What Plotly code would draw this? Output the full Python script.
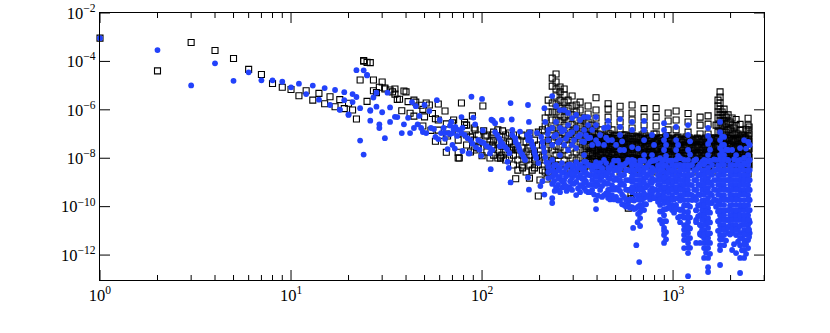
import math
import plotly.graph_objects as go

# ---------- low multipoles: black squares (ell, log10 value) ----------
black_ell = [1,2,3,4,5,6,7,8,9,10,11,12,13,14,15,16,17,18,19,20,21,22,23,24,25,26,27,28,29,
 24,25,27,30,31,31,33,34,35,35,36,37,39,40,41,44,45,48,53,51,59,49,38,42,44,50,55,64,57,59,49,65,70,54,59,63,65,75,65,57,66,75,75,
 78,101,89,81,71,92,102,81,104,128,162,75,76,100,125,177,150,197,219,201,183,163,87,114,139,174,143,113,95,125,152,190,
 583,602,622,624,644,603,621]
black_exp = [-3.04,-4.39,-3.22,-3.55,-3.88,-4.33,-4.54,-4.91,-5.07,-5.16,-5.42,-5.21,-5.60,-5.32,-5.75,-5.46,-5.87,-5.58,-5.95,-5.73,-6.01,-6.38,-4.77,-3.99,-5.65,-4.05,-5.21,-5.29,-5.07,
 -3.96,-4.04,-4.77,-4.85,-5.10,-5.14,-5.18,-5.26,-5.35,-5.14,-5.57,-5.56,-5.22,-5.26,-5.66,-5.60,-5.68,-5.81,-5.80,-5.72,-5.76,-5.98,-6.04,-6.14,-6.26,-6.29,-6.15,-6.05,-6.37,-6.42,-6.67,-6.58,-6.54,-6.85,-6.84,-7.30,-7.75,-7.75,-7.00,-7.30,-7.08,-7.25,-7.99,
 -5.72,-5.84,-6.25,-6.52,-6.42,-6.83,-6.87,-6.62,-7.08,-6.87,-7.08,-6.97,-7.99,-7.90,-8.00,-8.82,-8.85,-9.56,-8.86,-8.90,-8.49,-8.40,-7.12,-7.04,-7.33,-7.58,-7.66,-7.45,-7.58,-7.95,-7.62,-7.99,
 -10.06,-9.52,-9.40,-9.64,-9.40,-9.68,-9.35]

# ---------- dense black bands: one list of log10 values per multipole ----------
black_band_ell = [106,110,115,121,127,133,139,146,154,162,170,178,188,197,207,214,83,87,91,95.5,
 222,233,244,256,269,282,296,311,326,342,359,377,395,415,435,457,479,503,528,554,581,610,640,672,705,740,776,815,855,897,942,988,1037,1088,1142,1198,1257,1320,1385,1453,1525,1600,1679,1762,1849,1941,2037,2137,2243,2354,2470]
black_band_exp = [
 [-7.04,-7.45,-7.74],[-7.33,-7.99],[-6.92,-7.25,-7.58,-7.87],[-6.83,-7.33,-7.66,-7.99],[-7.12,-7.50,-7.87],[-7.04,-7.41,-7.74,-8.07],[-6.96,-7.33,-7.66,-7.99],
 [-7.04,-7.54,-7.87,-8.28],[-7.25,-7.66,-8.07,-8.49],[-7.04,-7.58,-7.87,-8.28],[-7.33,-7.74,-8.07,-8.57],[-6.96,-7.45,-7.87,-8.28],[-7.25,-7.74,-8.07,-8.40],[-6.92,-7.45,-7.87,-8.28],[-6.83,-7.45,-7.95,-8.49],[-6.34,-6.67,-7.12,-7.66,-8.07,-8.57],
 [-6.63,-7.04,-7.45],[-7.12,-7.74],[-6.75,-7.25,-7.66],[-7.04,-7.54],
 [-5.60,-6.09,-6.75,-7.25,-7.58,-7.99,-8.28,-8.57],
 [-4.69,-5.02,-5.72,-6.09,-6.42,-6.83,-7.25,-7.66,-8.07,-8.40],
 [-4.52,-4.85,-5.14,-5.43,-5.76,-6.09,-6.42,-6.75,-7.12,-7.50,-7.87,-8.28],
 [-5.06,-5.26,-5.60,-5.93,-6.21,-6.50,-6.83,-7.17,-7.54,-7.87,-8.28],
 [-5.14,-5.39,-5.68,-6.01,-6.30,-6.63,-6.96,-7.25,-7.66,-8.07,-8.49],
 [-5.60,-5.93,-6.21,-6.50,-6.83,-7.12,-7.45,-7.87,-8.28],
 [-5.43,-5.84,-6.21,-6.59,-6.92,-7.25,-7.58,-7.99,-8.40],
 [-5.80,-6.09,-6.42,-6.75,-7.08,-7.41,-7.74,-8.07,-8.49],
 [-5.68,-6.01,-6.34,-6.67,-7.00,-7.33,-7.66,-7.99,-8.40],
 [-6.34,-6.67,-7.00,-7.33,-7.66,-7.99,-8.40],
 [-5.84,-6.17,-6.50,-6.83,-7.17,-7.50,-7.83,-8.16,-8.57],
 [-6.63,-6.96,-7.25,-7.58,-7.91,-8.28],
 [-5.50,-6.01,-6.34,-6.67,-7.00,-7.33,-7.66,-7.95,-8.32],
 [-6.83,-7.17,-7.50,-7.83,-8.16,-8.57],
 [-7.04,-7.33,-7.66,-7.99,-8.40],
 [-5.75,-5.97,-6.30,-6.63,-6.96,-7.29,-7.62,-7.95,-8.36],
 [-6.83,-7.17,-7.50,-7.83,-8.16],
 [-7.04,-7.33,-7.66,-7.99,-8.40],
 [-5.85,-6.17,-6.50,-6.83,-7.17,-7.50,-7.83,-8.16,-8.57],
 [-7.04,-7.37,-7.70,-7.99,-8.40],
 [-7.12,-7.45,-7.78,-8.07,-8.40],
 [-5.80,-6.13,-6.42,-6.75,-7.08,-7.41,-7.74,-8.07,-8.49],
 [-7.12,-7.45,-7.78,-8.07,-8.40],
 [-7.12,-7.45,-7.78,-8.07,-8.49],
 [-5.95,-6.30,-6.63,-6.96,-7.25,-7.58,-7.91,-8.28],
 [-7.17,-7.50,-7.83,-8.16,-8.49],
 [-7.17,-7.50,-7.83,-8.16,-8.57],
 [-5.95,-6.30,-6.67,-7.00,-7.33,-7.66,-7.99,-8.32],
 [-7.17,-7.50,-7.83,-8.16,-8.57],
 [-7.25,-7.58,-7.91,-8.24,-8.57],
 [-6.13,-6.46,-6.83,-7.17,-7.50,-7.83,-8.16,-8.49],
 [-7.25,-7.58,-7.91,-8.24],
 [-6.05,-6.42,-6.83,-7.17,-7.50,-7.83,-8.16,-8.57],
 [-7.25,-7.58,-7.91,-8.24],
 [-7.25,-7.58,-7.91,-8.24,-8.57],
 [-6.15,-6.50,-6.92,-7.25,-7.58,-7.91,-8.24],
 [-7.25,-7.58,-7.91,-8.24,-8.57],
 [-7.25,-7.58,-7.91,-8.24],
 [-6.30,-6.63,-7.00,-7.33,-7.66,-7.99,-8.32],
 [-7.25,-7.58,-7.91,-8.24,-8.57],
 [-6.25,-6.59,-7.00,-7.33,-7.66,-7.99,-8.32],
 [-7.25,-7.58,-7.91,-8.24,-8.57],
 [-6.63,-7.17,-7.50,-7.83,-8.16],
 [-5.26,-5.47,-5.72,-5.97,-6.21,-6.46,-6.75,-7.04,-7.33,-7.66,-7.99,-8.32],
 [-5.97,-6.21,-6.46,-6.79,-7.12,-7.45,-7.78,-8.11],
 [-6.21,-6.50,-6.83,-7.17,-7.50,-7.83,-8.16,-8.57],
 [-6.34,-6.63,-6.96,-7.25,-7.58,-7.91,-8.24],
 [-6.40,-6.67,-6.96,-7.25,-7.58,-7.91,-8.24],
 [-6.60,-6.83,-7.12,-7.41,-7.74,-8.07,-8.40],
 [-7.12,-7.41,-7.74,-8.07,-8.40],
 [-6.35,-6.63,-6.83,-7.08,-7.33,-7.62,-7.95,-8.28,-8.65]]
# second set of columns, between the first ones
black_fill_ell = [350,368,386,405,425,446,468,491,515,541,567,595,625,656,688,722,758,795,834,876,919,965,1012,1062,1114,1169,1227,1288,1352,1418,1488,1561,1638,1719,1805,1894,1987,2085,2188,2295,2410,2500]
black_fill_exp = [
 [-6.50,-6.83,-7.17,-7.50,-7.83,-8.16],[-6.79,-7.12,-7.45,-7.78,-8.11],[-7.00,-7.33,-7.66,-7.99,-8.32],[-7.00,-7.33,-7.66,-7.99,-8.32],[-7.08,-7.41,-7.74,-8.07,-8.40],
 [-7.12,-7.45,-7.78,-8.11],[-7.00,-7.33,-7.66,-7.99,-8.32],[-7.08,-7.41,-7.74,-8.07],[-7.08,-7.41,-7.74,-8.07,-8.40],[-7.04,-7.37,-7.70,-8.03],
 [-7.04,-7.37,-7.70,-8.03,-8.36],[-7.08,-7.41,-7.74,-8.07],[-7.08,-7.41,-7.74,-8.07],[-7.12,-7.45,-7.78,-8.11],[-7.04,-7.37,-7.70,-8.03],
 [-7.08,-7.41,-7.74,-8.07],[-7.29,-7.62,-7.95,-8.28],[-7.00,-7.33,-7.66,-7.99,-8.32],[-7.29,-7.62,-7.95,-8.28],[-7.29,-7.62,-7.95,-8.28],
 [-7.08,-7.41,-7.74,-8.07,-8.40],[-7.29,-7.62,-7.95,-8.28],[-7.29,-7.62,-7.95,-8.28],[-7.12,-7.45,-7.78,-8.11],[-7.33,-7.66,-7.99,-8.32],
 [-7.12,-7.45,-7.78,-8.11],[-7.33,-7.66,-7.99,-8.32],[-7.33,-7.66,-7.99,-8.32],[-7.21,-7.54,-7.87,-8.20],[-7.33,-7.66,-7.99,-8.32],
 [-7.33,-7.66,-7.99,-8.32],[-7.17,-7.50,-7.83,-8.16],[-7.33,-7.66,-7.99,-8.32],[-5.60,-5.84,-6.09,-6.34,-6.63,-6.92,-7.21,-7.50,-7.83,-8.16],[-6.09,-6.34,-6.63,-6.92,-7.25,-7.58,-7.91,-8.24],
 [-6.30,-6.59,-6.92,-7.25,-7.58,-7.91,-8.24],[-6.50,-6.79,-7.08,-7.41,-7.74,-8.07],[-6.75,-7.04,-7.33,-7.66,-7.99,-8.32],[-7.00,-7.29,-7.62,-7.95,-8.28],[-7.04,-7.37,-7.70,-8.03,-8.36],
 [-6.80,-7.12,-7.45,-7.78,-8.11,-8.44],[-6.71,-7.00,-7.29,-7.62,-7.95,-8.28]]
# third set: fills the solid part of the black band
black_solid_ell = [380,400,420,440,462,485,510,535,560,588,617,647,680,714,750,786,825,866,908,953,1000,1050,1102,1157,1214,1274,1337,1403,1473,1546,1622,1702,1786,1875,1968,2065,2167,2274,2387,2480]
black_solid_exp = [
 [-7.16,-7.49,-7.82,-8.15],[-7.17,-7.50,-7.82,-8.14],[-7.21,-7.54,-7.87,-8.20],[-7.20,-7.53,-7.86,-8.19],[-7.15,-7.48,-7.80,-8.14],
 [-7.20,-7.54,-7.87,-8.20],[-7.18,-7.52,-7.85,-8.18],[-7.20,-7.52,-7.85,-8.20],[-7.20,-7.54,-7.87,-8.20],[-7.20,-7.53,-7.86,-8.19],
 [-7.21,-7.54,-7.87,-8.20],[-7.17,-7.50,-7.83,-8.16],[-7.20,-7.53,-7.86,-8.19],[-7.21,-7.54,-7.87,-8.20],[-7.17,-7.50,-7.83,-8.16],
 [-7.16,-7.49,-7.82,-8.15],[-7.21,-7.54,-7.87,-8.20],[-7.16,-7.49,-7.82,-8.15],[-7.21,-7.54,-7.87,-8.20],[-7.17,-7.50,-7.83,-8.16],
 [-7.21,-7.54,-7.87,-8.20],[-7.16,-7.49,-7.82,-8.15],[-7.21,-7.54,-7.87,-8.20],[-7.21,-7.54,-7.87,-8.20],[-7.16,-7.49,-7.82,-8.15],
 [-7.21,-7.54,-7.87,-8.20],[-7.17,-7.50,-7.83,-8.16],[-7.21,-7.54,-7.87,-8.20],[-7.17,-7.50,-7.83,-8.16],[-7.21,-7.54,-7.87,-8.20],
 [-7.17,-7.50,-7.83,-8.16],[-7.21,-7.54,-7.87,-8.20],[-7.17,-7.50,-7.83,-8.16],[-7.21,-7.54,-7.87,-8.20],[-7.17,-7.50,-7.83,-8.16],
 [-7.21,-7.54,-7.87,-8.20],[-7.17,-7.50,-7.83,-8.16],[-7.21,-7.54,-7.87,-8.20],[-7.17,-7.50,-7.83,-8.16],[-7.21,-7.54,-7.87,-8.20]]

# ---------- low multipoles: blue dots (ell, log10 value) ----------
blue_ell = [1,2,3,4,5,6,7,8,9,10,11,12,13,14,15,16,17,18,19,20,21,22,23,24,25,26,27,28,29,
 22,25,19,21,23,26,28,32,43,50,33,30,26,18,20,35,36,33,41,47,53,58,69,45,60,68,71,39,38,29,31,44,42,46,48,54,56,63,49,51,61,64,67,70,74,57,59,24,66,
 88,100,141,174,212,78,112,90,114,127,143,176,214,79,92,117,101,144,158,178,194,221,
 72.5,75,78,81,84,87,95.5,99,102,106,110,113,117,120,123,125,128,132,135,139,124,144,149,150,154,156,158,162,165,168,178,181,183,186,188,190,192,197,172,174,204,207,209,212,214,217,222,
 68,64,70,72,79,85,89,93,97,86,111,138,136,174,141,176,212,202,207,233,240,250,264,277,110,99,618,642,652,665]
blue_exp = [-3.04,-3.53,-4.99,-4.08,-4.80,-4.45,-4.78,-4.78,-4.84,-5.07,-4.92,-5.35,-5.00,-5.58,-5.10,-5.80,-5.18,-5.99,-5.27,-6.19,-5.35,-5.47,-7.27,-4.37,-4.58,-6.04,-5.49,-5.29,-6.75,
 -4.36,-4.56,-5.60,-5.68,-5.93,-6.01,-5.87,-5.29,-5.68,-5.80,-5.90,-6.10,-6.45,-6.00,-6.21,-6.29,-6.30,-6.50,-6.33,-6.25,-6.05,-5.60,-6.50,-5.85,-6.42,-6.65,-6.80,-6.60,-6.96,-6.60,-7.17,-6.75,-6.96,-6.60,-6.75,-6.75,-6.79,-6.75,-6.92,-6.96,-6.96,-6.96,-6.96,-6.96,-7.08,-7.12,-7.21,-7.85,-7.62,
 -5.46,-5.55,-5.72,-5.80,-5.93,-6.30,-6.41,-6.32,-6.45,-6.42,-6.40,-6.50,-6.50,-6.75,-6.60,-6.55,-6.85,-6.83,-6.90,-6.92,-6.95,-7.00,
 -6.71,-6.83,-6.96,-7.04,-7.17,-7.25,-7.25,-7.33,-7.37,-7.50,-7.58,-7.66,-6.92,-7.04,-7.17,-7.29,-7.41,-7.54,-7.62,-7.79,-7.50,-7.04,-7.17,-7.33,-7.45,-7.58,-7.70,-7.83,-7.95,-8.07,-7.12,-7.29,-7.45,-7.58,-7.74,-7.87,-7.99,-8.20,-7.04,-7.25,-7.12,-7.33,-7.54,-7.74,-7.95,-8.16,-8.36,
 -7.00,-7.20,-7.45,-7.60,-7.70,-7.80,-7.40,-7.55,-7.65,-7.80,-8.45,-8.40,-8.15,-8.80,-9.00,-9.30,-9.50,-9.15,-8.95,-9.65,-9.35,-9.30,-9.20,-9.35,-7.80,-7.90,-10.88,-11.59,-10.64,-12.29]

# ---------- dense blue band: one list of log10 values per multipole ----------
blue_band_ell = [222,233,244,256,269,282,296,311,326,342,359,377,395,415,435,457,479,503,528,554,581,610,640,672,705,740,776,815,855,897,942,988,1037,1088,1142,1198,1257,1320,1385,1453,1525,1600,1679,1762,1849,1941,2037,2137,2243,2354,2470,2520]
blue_band_exp = [
 [-6.83,-7.25,-8.20,-8.57,-8.82],
 [-5.43,-6.75,-7.45,-8.07,-8.49,-8.77,-9.06,-9.85],
 [-5.84,-6.50,-7.04,-8.28,-8.69,-9.19],
 [-6.01,-6.75,-7.25,-7.87,-8.40,-8.77,-9.40],
 [-6.01,-6.83,-7.45,-8.57,-8.90,-9.06],
 [-6.13,-6.63,-7.04,-7.66,-8.28,-8.69,-9.19],
 [-6.34,-6.92,-7.45,-8.49,-8.82,-9.31],
 [-6.21,-6.75,-7.58,-8.16,-8.57,-8.98,-9.52],
 [-6.42,-7.04,-8.28,-8.69,-9.11,-9.40],
 [-6.30,-6.83,-7.33,-7.87,-8.40,-8.82,-9.23],
 [-6.30,-6.63,-7.17,-8.28,-8.69,-9.11,-9.40],
 [-6.83,-7.45,-8.49,-8.90,-9.31],
 [-6.30,-6.63,-7.25,-8.16,-8.57,-8.98,-9.73,-10.10],
 [-7.04,-8.20,-8.57,-8.90,-9.31],
 [-6.75,-7.45,-8.07,-8.57,-8.98,-9.52],
 [-6.46,-6.71,-7.25,-8.40,-8.82,-9.31,-9.64],
 [-7.25,-8.28,-8.69,-9.11,-9.52],
 [-7.45,-8.40,-8.82,-9.23,-9.60],
 [-6.38,-6.71,-7.04,-7.66,-8.28,-8.69,-9.11,-9.73],
 [-7.66,-8.28,-8.69,-9.11,-9.60,-9.93],
 [-8.07,-8.49,-8.90,-9.31,-9.85],
 [-6.50,-6.83,-7.54,-8.07,-8.57,-8.98,-9.40,-10.02],
 [-8.28,-8.69,-9.11,-9.52,-10.06],
 [-8.28,-8.69,-9.11,-9.52,-9.93,-10.22,-10.47,-10.80],
 [-6.46,-6.83,-7.25,-7.87,-8.40,-8.82,-9.23,-9.64,-10.14],
 [-8.28,-8.69,-9.11,-9.52],
 [-7.04,-7.87,-8.40,-8.82,-9.23,-9.52],
 [-8.07,-8.49,-8.90,-9.31,-9.64],
 [-8.28,-8.69,-9.11,-9.52,-9.93,-10.55],
 [-6.55,-6.83,-7.25,-7.66,-8.07,-8.57,-8.98,-9.40,-9.85,-10.35,-10.88,-11.17,-11.50],
 [-8.40,-8.82,-9.23,-9.64,-10.06],
 [-8.28,-8.69,-9.11,-9.52,-9.93,-10.14],
 [-6.71,-7.25,-7.66,-8.07,-8.57,-8.98,-9.40,-9.93],
 [-8.28,-8.69,-9.11,-9.52,-10.14,-10.64],
 [-8.07,-8.49,-8.90,-9.31,-9.73,-10.22,-10.76,-11.17,-11.38,-11.71],
 [-6.63,-7.04,-7.66,-8.07,-8.49,-8.90,-9.31,-9.73,-10.22,-10.64,-11.09,-11.50,-11.92,-12.87],
 [-8.28,-8.69,-9.11,-9.52,-9.73],
 [-8.49,-8.90,-9.31,-9.73,-10.14,-10.64,-11.50],
 [-8.28,-8.69,-9.11,-9.52,-9.93,-10.35,-10.76,-11.09],
 [-8.07,-8.49,-8.90,-9.31,-9.73,-10.14,-10.55,-10.97,-11.30,-11.71,-12.12],
 [-6.75,-7.08,-7.41,-7.87,-8.40,-8.82,-9.23,-9.64,-10.06,-10.47,-10.88,-11.30,-11.71,-12.12,-12.50,-12.70],
 [-8.28,-8.69,-9.11,-9.52,-9.85],
 [-8.07,-8.49,-8.90,-9.31,-9.73,-10.00],
 [-6.50,-6.92,-7.25,-7.58,-7.87,-8.28,-8.69,-9.11,-9.52,-9.93,-10.35,-10.76,-11.17,-11.59,-11.79,-12.41],
 [-7.12,-7.45,-7.87,-8.28,-8.69,-9.11,-9.52,-9.93,-10.35,-10.76,-11.17,-11.59],
 [-7.66,-8.07,-8.49,-8.90,-9.31,-9.73,-10.14,-10.55,-11.09],
 [-7.66,-8.28,-8.69,-9.11,-9.52,-9.93,-10.35,-10.76,-11.09,-11.79],
 [-7.87,-8.28,-8.69,-9.11,-9.52,-9.93,-10.35,-10.76,-11.17,-11.92],
 [-7.58,-8.07,-8.49,-8.90,-9.31,-9.73,-10.14,-10.55,-11.09,-11.59,-12.12,-12.74],
 [-7.25,-7.99,-8.49,-8.90,-9.31,-9.73,-10.14,-10.55,-10.97,-11.38,-11.79,-12.12],
 [-7.33,-7.87,-8.28,-8.69,-9.11,-9.52,-9.93,-10.35,-10.76,-11.38,-11.71],
 [-7.45,-8.07,-8.49,-8.90,-9.31,-9.73,-10.14,-10.64,-11.09]]
# second set of blue columns, between the first ones, filling the band
blue_fill_ell = [238,250,262,275,289,303,318,334,350,368,386,405,425,446,468,491,515,541,567,595,625,656,688,722,758,795,834,876,919,965,1012,1062,1114,1169,1227,1288,1352,1418,1488,1561,1638,1719,1805,1894,1987,2085,2188,2295,2410,2500]
blue_fill_exp = [
 [-7.10,-8.30,-8.60,-8.95],[-7.35,-8.50,-8.85,-9.10],[-6.90,-8.20,-8.60,-8.95],[-7.20,-8.40,-8.75,-9.15],[-7.00,-8.25,-8.60,-8.95,-9.25],
 [-7.25,-8.35,-8.70,-9.05],[-7.10,-8.40,-8.80,-9.25],[-7.30,-8.45,-8.85,-9.15],[-7.05,-8.15,-8.60,-8.95,-9.35],[-7.15,-8.30,-8.70,-9.10,-9.40],
 [-8.30,-8.70,-9.10,-9.50],[-7.40,-8.35,-8.75,-9.10,-9.55],[-8.40,-8.75,-9.15,-9.60],[-7.15,-8.20,-8.70,-9.05,-9.45],[-8.45,-8.85,-9.30,-9.70],
 [-8.10,-8.50,-8.90,-9.30,-9.70],[-8.10,-8.50,-8.90,-9.30,-9.75],[-7.30,-8.30,-8.70,-9.05,-9.50,-9.90],[-8.20,-8.50,-8.90,-9.30,-9.70,-10.00],[-8.15,-8.50,-8.90,-9.30,-9.70,-10.05],
 [-8.10,-8.50,-8.90,-9.30,-9.75,-10.10],[-7.60,-8.45,-8.90,-9.30,-9.70,-10.00,-10.30],[-8.10,-8.50,-8.90,-9.30,-9.70,-10.10],[-8.40,-8.80,-9.20,-9.60,-9.90],[-8.15,-8.55,-8.95,-9.35,-9.70],
 [-7.45,-8.10,-8.50,-8.90,-9.30,-9.65],[-8.30,-8.70,-9.10,-9.50,-9.80],[-8.10,-8.45,-8.85,-9.25,-9.70,-10.20,-10.70],[-7.05,-7.45,-7.90,-8.30,-8.75,-9.20,-9.65,-10.10,-10.60,-11.05,-11.35],[-8.10,-8.50,-8.90,-9.30,-9.70,-10.00],
 [-8.45,-8.90,-9.30,-9.70,-10.05,-10.25],[-7.45,-7.90,-8.30,-8.75,-9.20,-9.65,-10.10,-10.45],[-8.45,-8.90,-9.30,-9.70,-10.10,-10.40],[-8.30,-8.70,-9.10,-9.50,-9.95,-10.45,-10.95],[-7.30,-7.85,-8.30,-8.70,-9.10,-9.50,-10.00,-10.45,-10.90,-11.30,-11.70],
 [-8.10,-8.50,-8.90,-9.30,-9.60],[-8.35,-8.70,-9.10,-9.50,-9.95,-10.40],[-8.15,-8.50,-8.90,-9.30,-9.75,-10.15,-10.55,-10.95,-11.20],[-8.10,-8.50,-8.90,-9.30,-9.75,-10.20,-10.70,-11.10,-11.50,-11.90],[-7.25,-7.65,-8.10,-8.60,-9.00,-9.45,-9.85,-10.25,-10.65,-11.10,-11.50,-11.95],
 [-8.05,-8.50,-8.90,-9.30,-9.70],[-8.30,-8.70,-9.10,-9.50,-9.85,-10.20,-10.60,-11.00],[-7.10,-7.45,-7.70,-8.10,-8.50,-8.90,-9.30,-9.70,-10.15,-10.55,-10.95,-11.35],[-7.65,-8.05,-8.50,-8.90,-9.30,-9.70,-10.15,-10.55,-10.95,-11.40],[-8.30,-8.70,-9.10,-9.50,-9.95,-10.35,-10.75,-11.15],
 [-8.05,-8.50,-8.90,-9.30,-9.70,-10.15,-10.55,-10.95,-11.55],[-8.10,-8.50,-8.90,-9.30,-9.70,-10.15,-10.55,-10.95,-11.45],[-8.30,-8.70,-9.10,-9.50,-9.95,-10.35,-10.75,-11.30,-11.80],[-7.60,-8.25,-8.70,-9.10,-9.50,-9.95,-10.35,-10.75,-11.15,-11.55,-11.95],[-8.10,-8.50,-8.90,-9.30,-9.70,-10.15,-10.55,-10.95,-11.25]]
# third set: same multipoles as the first, values half-way between its rows
blue_solid_ell = [296,342,395,457,528,610,672,705,776,855,897,942,988,1037,1088,1142,1198,1320,1385,1453,1525,1762,1849,1941,2037,2137,2243,2354,2470]
blue_solid_exp = [
 [-8.30,-8.65,-9.05],[-8.15,-8.60,-9.00],[-8.35,-8.75,-9.15],[-8.60,-9.05,-9.45],[-8.45,-8.90,-9.35],[-8.30,-8.75,-9.20,-9.70],[-8.10,-8.50,-8.90,-9.30,-9.70],[-8.10,-8.60,-9.00,-9.45,-9.90],[-8.10,-8.60,-9.00,-9.40],[-8.00,-8.50,-8.90,-9.30,-9.70,-10.20],
 [-8.30,-8.80,-9.20,-9.60,-10.10,-10.60,-11.00],[-8.10,-8.60,-9.00,-9.40,-9.85],[-8.10,-8.50,-8.90,-9.30,-9.70],[-8.30,-8.80,-9.20,-9.65,-10.10],[-8.00,-8.50,-8.90,-9.30,-9.75,-10.40],[-8.30,-8.70,-9.10,-9.50,-9.95,-10.45,-10.95],[-8.30,-8.70,-9.10,-9.50,-9.95,-10.40,-10.85,-11.30,-11.70],
 [-8.05,-8.50,-8.90,-9.30,-9.70,-10.15,-10.55],[-8.25,-8.70,-9.10,-9.50,-9.95,-10.35,-10.75,-11.15,-11.50],[-8.25,-8.70,-9.10,-9.50,-9.95,-10.35,-10.75,-11.15,-11.50],[-8.15,-8.60,-9.00,-9.40,-9.85,-10.25,-10.65,-11.10,-11.50],
 [-8.05,-8.50,-8.90,-9.30,-9.75,-10.15,-10.55,-10.95,-11.35],[-8.05,-8.50,-8.90,-9.30,-9.70,-10.15,-10.55,-10.95],[-8.10,-8.50,-8.90,-9.30,-9.70,-10.15,-10.55,-10.85],[-8.50,-8.90,-9.30,-9.70,-10.15,-10.55,-10.95],[-8.50,-8.90,-9.30,-9.70,-10.15,-10.55,-10.95],[-8.30,-8.70,-9.10,-9.50,-9.95,-10.35,-10.80,-11.30],[-8.20,-8.70,-9.10,-9.50,-9.95,-10.35,-10.75,-11.15,-11.55],[-8.10,-8.50,-8.90,-9.30,-9.70,-10.15,-10.55,-10.95]]

x_ticks = [1, 10, 100, 1000]
x_labels = ["10<sup>0</sup>", "10<sup>1</sup>", "10<sup>2</sup>", "10<sup>3</sup>"]
x_minor = [m * d for d in (1, 10, 100, 1000) for m in range(2, 10) if m * d <= 3000]
y_ticks = [1e-12, 1e-10, 1e-8, 1e-6, 1e-4, 1e-2]
y_labels = ["10<sup>−12</sup>", "10<sup>−10</sup>", "10<sup>−8</sup>", "10<sup>−6</sup>", "10<sup>−4</sup>", "10<sup>−2</sup>"]


def flatten(ells, cols):
    xs, ys = [], []
    for e, col in zip(ells, cols):
        for v in col:
            xs.append(e)
            ys.append(10 ** v)
    return xs, ys


black_x, black_y = list(black_ell), [10 ** v for v in black_exp]
for e, c in ((black_band_ell, black_band_exp), (black_fill_ell, black_fill_exp), (black_solid_ell, black_solid_exp)):
    a, b = flatten(e, c)
    black_x += a
    black_y += b
blue_x, blue_y = list(blue_ell), [10 ** v for v in blue_exp]
for e, c in ((blue_band_ell, blue_band_exp), (blue_fill_ell, blue_fill_exp), (blue_solid_ell, blue_solid_exp)):
    a, b = flatten(e, c)
    blue_x += a
    blue_y += b

fig = go.Figure()
fig.add_trace(go.Scatter(x=black_x, y=black_y, mode="markers", cliponaxis=False,
                         marker=dict(symbol="square-open", size=6, color="black", line=dict(width=1.1, color="black"))))
fig.add_trace(go.Scatter(x=blue_x, y=blue_y, mode="markers", cliponaxis=False,
                         marker=dict(symbol="circle", size=5.8, color="#2242fb", line=dict(width=0))))

font = dict(family="Liberation Serif, Times New Roman, serif", size=16.5, color="black")
x_range = [0, 3.476]
y_range = [-13.03, -2]
line = dict(showgrid=False, zeroline=False, automargin=False, showline=True, linecolor="black",
            linewidth=1.3, mirror=True)

# tick marks, placed from the tick values on the axes' own fractions
tick_line = dict(color="black", width=1)
shapes = []
for values, length in ((x_ticks, 10), (x_minor, 5)):
    for v in values:
        f = (math.log10(v) - x_range[0]) / (x_range[1] - x_range[0])
        for anchor, sign in ((0, 1), (1, -1)):
            shapes.append(dict(type="line", xref="x domain", yref="y domain", ysizemode="pixel", yanchor=anchor,
                               x0=f, x1=f, y0=0, y1=sign * length, line=tick_line, layer="above"))
for v in y_ticks:
    f = (math.log10(v) - y_range[0]) / (y_range[1] - y_range[0])
    for anchor, sign in ((0, 1), (1, -1)):
        shapes.append(dict(type="line", xref="x domain", yref="y domain", xsizemode="pixel", xanchor=anchor,
                           y0=f, y1=f, x0=0, x1=sign * 10, line=tick_line, layer="above"))

fig.update_layout(
    xaxis=dict(type="log", range=x_range, ticks="", tickmode="array", tickvals=x_ticks, ticktext=x_labels,
               tickfont=font, **line),
    yaxis=dict(type="log", range=y_range, ticks="", tickmode="array", tickvals=y_ticks, ticktext=y_labels,
               tickfont=font, ticklabeloverflow="allow", **line),
    shapes=shapes,
    width=830, height=333, autosize=False, showlegend=False,
    margin=dict(l=100, r=66, t=13, b=53, pad=0),
    paper_bgcolor="white", plot_bgcolor="white")
fig.write_html("out.html", config=dict(displayModeBar=False), post_script="document.body.style.margin='0';")
